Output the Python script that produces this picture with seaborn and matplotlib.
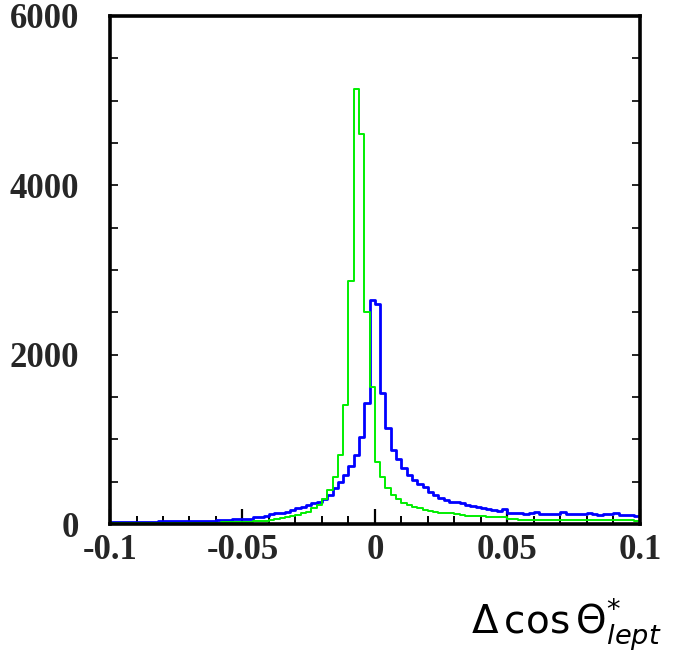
import numpy as np
import pandas as pd
import matplotlib
matplotlib.use("Agg")
import matplotlib.pyplot as plt
import seaborn as sns
from matplotlib.ticker import MultipleLocator, FixedLocator

# ---- data ----
bin_edges = [round(v, 4) for v in np.linspace(-0.1, 0.1, 101)]

blue_counts = [
    22, 25, 28, 25, 24, 27, 25, 28, 26, 30,
    32, 35, 33, 36, 34, 38, 35, 37, 40, 38,
    45, 50, 52, 55, 58, 60, 65,
    80, 88, 92,
    120, 126, 130, 140,
    165, 185,
    200, 224,
    250, 263,
    300, 342,
    420, 500, 578, 680, 815, 1030, 1430, 2650, 2600, 1545,
    1130, 874, 764, 658, 578, 519, 470, 440, 381, 342,
    303, 283, 263, 255, 244, 230, 212, 205, 190, 175, 160, 157,
    175,
    126, 126, 128, 124, 126,
    142,
    118, 120, 116, 118,
    142,
    118, 116, 120, 118,
    128,
    114, 112, 115, 114,
    127,
    106, 104, 106, 100,
]

green_counts = [
    8, 10, 9, 11, 10, 12, 10, 9, 11, 12,
    12, 13, 11, 14, 12, 15, 13, 14, 16, 15,
    18, 20, 19, 22, 24, 26, 28,
    30, 35, 40,
    50, 60,
    75, 86, 90,
    106,
    130, 145,
    190, 230,
    300, 401, 559, 815, 1400, 2870, 5140, 4610, 2507, 1620,
    736, 559, 421, 342, 290, 250, 225, 200, 185, 165,
    150, 145, 135, 126, 126, 115, 106, 100, 94, 94, 90,
    86, 86, 84, 86,
    60, 55, 52, 50, 48, 50, 47, 46, 48, 45,
    47, 46, 44, 46, 45, 44, 46, 43, 45, 44,
    42, 44, 43, 42, 40,
]

x_tick_values = [-0.1, -0.05, 0, 0.05, 0.1]
x_tick_labels = ["-0.1", "-0.05", "0", "0.05", "0.1"]
y_tick_values = [0, 2000, 4000, 6000]
y_tick_labels = ["0", "2000", "4000", "6000"]

edges_arr = np.array(bin_edges)
centers = (edges_arr[:-1] + edges_arr[1:]) / 2
df_blue = pd.DataFrame({"x": centers, "w": blue_counts})
df_green = pd.DataFrame({"x": centers, "w": green_counts})

# ---- plot ----
sns.set_theme(style="white")
plt.rcParams['font.family'] = ['Liberation Serif', 'DejaVu Serif']
plt.rcParams['mathtext.fontset'] = 'dejavusans'

fig = plt.figure(figsize=(6.77, 6.64), dpi=100)
ax = fig.add_axes([0.1625, 0.2108, 0.7825, 0.7652])

sns.histplot(data=df_blue, x="x", weights="w", bins=bin_edges,
             element="step", fill=False, color="#0000ff", linewidth=2.0, ax=ax)
sns.histplot(data=df_green, x="x", weights="w", bins=bin_edges,
             element="step", fill=False, color="#00ee00", linewidth=1.4, ax=ax)

ax.set_xlim(-0.1, 0.1)
ax.set_ylim(0, 6000)
ax.set_xlabel("")
ax.set_ylabel("")

ax.xaxis.set_major_locator(FixedLocator(x_tick_values))
ax.set_xticklabels(x_tick_labels)
ax.xaxis.set_minor_locator(MultipleLocator(0.01))
ax.yaxis.set_major_locator(FixedLocator(y_tick_values))
ax.set_yticklabels(y_tick_labels)
ax.yaxis.set_minor_locator(MultipleLocator(500))

for lab in ax.get_xticklabels() + ax.get_yticklabels():
    lab.set_fontweight("bold")
    lab.set_fontsize(25)

ax.tick_params(axis="x", which="major", direction="in", length=11, width=1.6,
               color="black", pad=7, bottom=True, top=False)
ax.tick_params(axis="x", which="minor", direction="in", length=6, width=1.4,
               color="black", bottom=True, top=False)
ax.tick_params(axis="y", which="both", direction="in", length=6, width=1.2,
               color="black", left=True, right=True, pad=22)

for s in ax.spines.values():
    s.set_visible(True)
    s.set_color("black")
    s.set_linewidth(2.6)

fig.text(0.695, 0.045, r"$\Delta\,\cos\Theta^{*}_{lept}$", fontsize=28, color="black")

fig.savefig("out.png", dpi=100)
